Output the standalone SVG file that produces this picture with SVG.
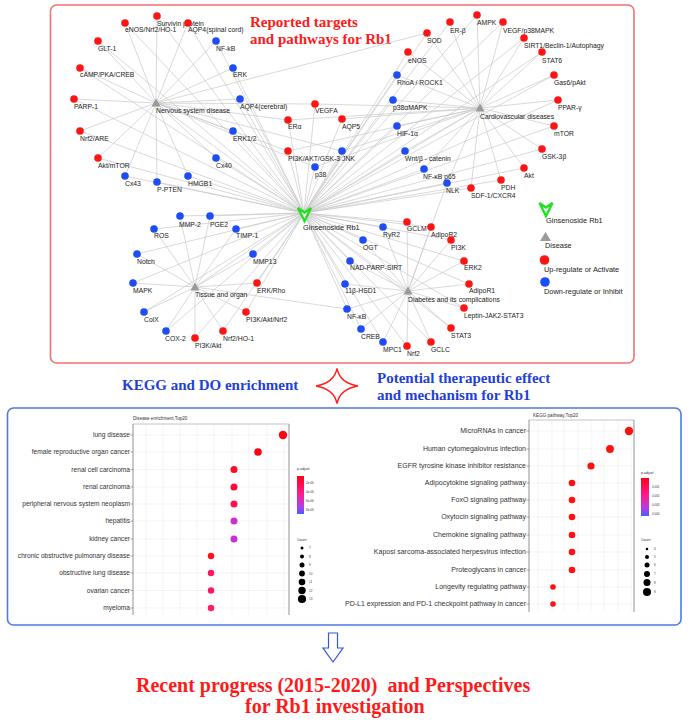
<svg xmlns="http://www.w3.org/2000/svg" width="690" height="723" viewBox="0 0 690 723">
<defs>
<style>
.e{stroke:#c9c9c9;stroke-width:0.7;fill:none}
.r{fill:#ff1414}
.b{fill:#1e4cf5}
.tri{fill:#9a9a9a}
.t{font-family:"Liberation Sans",Arial,sans-serif;font-size:6.8px;fill:#222}
.lg{font-family:"Liberation Sans",Arial,sans-serif;font-size:7.4px;fill:#222}
.ttl{font-family:"Liberation Serif","Times New Roman",serif;font-weight:bold;font-size:15px}
.red{fill:#ff1a1a}
.blu{fill:#1f3fd6}
.ax{font-family:"Liberation Sans",Arial,sans-serif;fill:#333}
.g{stroke:#ececec;stroke-width:0.6}
.tk{stroke:#555;stroke-width:0.5}
.vee{fill:#fff;stroke:#22e022;stroke-width:2.4;stroke-linejoin:miter}
</style>
<linearGradient id="grad" x1="0" y1="0" x2="0" y2="1">
<stop offset="0" stop-color="#ff0018"/>
<stop offset="0.45" stop-color="#ff1a8a"/>
<stop offset="0.8" stop-color="#b040e0"/>
<stop offset="1" stop-color="#4a5cff"/>
</linearGradient>
</defs>
<rect width="690" height="723" fill="#fff"/>

<!-- frames -->
<rect x="50.5" y="5" width="583.5" height="358" rx="6" fill="none" stroke="#f07272" stroke-width="1.6"/>
<rect x="7.5" y="408" width="673.5" height="217" rx="6" fill="none" stroke="#4d78e6" stroke-width="1.6"/>

<text class="ttl red" x="250" y="27">Reported targets</text>
<text class="ttl red" x="250" y="44">and pathways for Rb1</text>

<g id="connectors" class="e">
<!-- center to nodes -->
<line x1="304" y1="213" x2="157" y2="16"/><line x1="304" y1="213" x2="125" y2="23"/><line x1="304" y1="213" x2="188" y2="23"/><line x1="304" y1="213" x2="98" y2="41"/><line x1="304" y1="213" x2="216" y2="41"/><line x1="304" y1="213" x2="80" y2="68"/><line x1="304" y1="213" x2="233" y2="68"/><line x1="304" y1="213" x2="74" y2="99"/><line x1="304" y1="213" x2="240" y2="99"/><line x1="304" y1="213" x2="80" y2="131"/><line x1="304" y1="213" x2="233" y2="131"/><line x1="304" y1="213" x2="98" y2="158"/><line x1="304" y1="213" x2="216" y2="158"/><line x1="304" y1="213" x2="125" y2="176"/><line x1="304" y1="213" x2="188" y2="176"/><line x1="304" y1="213" x2="157" y2="182"/>
<line x1="304" y1="213" x2="315" y2="104"/><line x1="304" y1="213" x2="288" y2="120"/><line x1="304" y1="213" x2="342" y2="119"/><line x1="304" y1="213" x2="288" y2="151"/><line x1="304" y1="213" x2="342" y2="151"/><line x1="304" y1="213" x2="315" y2="167"/>
<line x1="304" y1="213" x2="477" y2="15"/><line x1="304" y1="213" x2="450" y2="22"/><line x1="304" y1="213" x2="503" y2="22"/><line x1="304" y1="213" x2="427" y2="33"/><line x1="304" y1="213" x2="524" y2="38"/><line x1="304" y1="213" x2="408" y2="52"/><line x1="304" y1="213" x2="542" y2="52"/><line x1="304" y1="213" x2="397" y2="75"/><line x1="304" y1="213" x2="554" y2="75"/><line x1="304" y1="213" x2="393" y2="100"/><line x1="304" y1="213" x2="558" y2="100"/><line x1="304" y1="213" x2="397" y2="126"/><line x1="304" y1="213" x2="554" y2="126"/><line x1="304" y1="213" x2="405" y2="151"/><line x1="304" y1="213" x2="542" y2="149"/><line x1="304" y1="213" x2="424" y2="169"/><line x1="304" y1="213" x2="524" y2="168"/><line x1="304" y1="213" x2="501" y2="180"/><line x1="304" y1="213" x2="447" y2="183"/><line x1="304" y1="213" x2="471" y2="188"/>
<line x1="304" y1="213" x2="180" y2="216"/><line x1="304" y1="213" x2="210" y2="216"/><line x1="304" y1="213" x2="154" y2="229"/><line x1="304" y1="213" x2="236" y2="229"/><line x1="304" y1="213" x2="137" y2="254"/><line x1="304" y1="213" x2="253" y2="254"/><line x1="304" y1="213" x2="133" y2="283"/><line x1="304" y1="213" x2="257" y2="283"/><line x1="304" y1="213" x2="144" y2="312"/><line x1="304" y1="213" x2="246" y2="312"/><line x1="304" y1="213" x2="166" y2="331"/><line x1="304" y1="213" x2="223" y2="331"/><line x1="304" y1="213" x2="195" y2="338"/>
<line x1="304" y1="213" x2="407" y2="222"/><line x1="304" y1="213" x2="431" y2="227"/><line x1="304" y1="213" x2="383" y2="227"/><line x1="304" y1="213" x2="363" y2="240"/><line x1="304" y1="213" x2="451" y2="240"/><line x1="304" y1="213" x2="350" y2="261"/><line x1="304" y1="213" x2="464" y2="261"/><line x1="304" y1="213" x2="345" y2="284"/><line x1="304" y1="213" x2="469" y2="284"/><line x1="304" y1="213" x2="347" y2="309"/><line x1="304" y1="213" x2="464" y2="308"/><line x1="304" y1="213" x2="361" y2="329"/><line x1="304" y1="213" x2="451" y2="328"/><line x1="304" y1="213" x2="383" y2="342"/><line x1="304" y1="213" x2="407" y2="346"/><line x1="304" y1="213" x2="431" y2="342"/>
<line x1="304" y1="213" x2="156" y2="103"/><line x1="304" y1="213" x2="480" y2="108"/><line x1="304" y1="213" x2="195" y2="287"/><line x1="304" y1="213" x2="408" y2="291"/>
<!-- nervous system disease -->
<line x1="156" y1="103" x2="157" y2="16"/><line x1="156" y1="103" x2="125" y2="23"/><line x1="156" y1="103" x2="188" y2="23"/><line x1="156" y1="103" x2="98" y2="41"/><line x1="156" y1="103" x2="216" y2="41"/><line x1="156" y1="103" x2="80" y2="68"/><line x1="156" y1="103" x2="233" y2="68"/><line x1="156" y1="103" x2="74" y2="99"/><line x1="156" y1="103" x2="240" y2="99"/><line x1="156" y1="103" x2="80" y2="131"/><line x1="156" y1="103" x2="233" y2="131"/><line x1="156" y1="103" x2="98" y2="158"/><line x1="156" y1="103" x2="216" y2="158"/><line x1="156" y1="103" x2="125" y2="176"/><line x1="156" y1="103" x2="188" y2="176"/><line x1="156" y1="103" x2="157" y2="182"/><line x1="156" y1="103" x2="427" y2="33"/>
<line x1="156" y1="103" x2="315" y2="104"/><line x1="156" y1="103" x2="288" y2="120"/><line x1="156" y1="103" x2="288" y2="151"/><line x1="156" y1="103" x2="342" y2="151"/><line x1="156" y1="103" x2="315" y2="167"/>
<!-- cardiovascular -->
<line x1="480" y1="108" x2="477" y2="15"/><line x1="480" y1="108" x2="450" y2="22"/><line x1="480" y1="108" x2="503" y2="22"/><line x1="480" y1="108" x2="427" y2="33"/><line x1="480" y1="108" x2="524" y2="38"/><line x1="480" y1="108" x2="408" y2="52"/><line x1="480" y1="108" x2="542" y2="52"/><line x1="480" y1="108" x2="397" y2="75"/><line x1="480" y1="108" x2="554" y2="75"/><line x1="480" y1="108" x2="393" y2="100"/><line x1="480" y1="108" x2="558" y2="100"/><line x1="480" y1="108" x2="397" y2="126"/><line x1="480" y1="108" x2="554" y2="126"/><line x1="480" y1="108" x2="405" y2="151"/><line x1="480" y1="108" x2="542" y2="149"/><line x1="480" y1="108" x2="424" y2="169"/><line x1="480" y1="108" x2="524" y2="168"/><line x1="480" y1="108" x2="501" y2="180"/><line x1="480" y1="108" x2="447" y2="183"/><line x1="480" y1="108" x2="471" y2="188"/>
<line x1="480" y1="108" x2="315" y2="104"/><line x1="480" y1="108" x2="288" y2="120"/><line x1="480" y1="108" x2="342" y2="119"/><line x1="480" y1="108" x2="288" y2="151"/><line x1="480" y1="108" x2="342" y2="151"/><line x1="480" y1="108" x2="315" y2="167"/>
<!-- tissue and organ -->
<line x1="195" y1="287" x2="180" y2="216"/><line x1="195" y1="287" x2="210" y2="216"/><line x1="195" y1="287" x2="154" y2="229"/><line x1="195" y1="287" x2="236" y2="229"/><line x1="195" y1="287" x2="137" y2="254"/><line x1="195" y1="287" x2="253" y2="254"/><line x1="195" y1="287" x2="133" y2="283"/><line x1="195" y1="287" x2="257" y2="283"/><line x1="195" y1="287" x2="144" y2="312"/><line x1="195" y1="287" x2="246" y2="312"/><line x1="195" y1="287" x2="166" y2="331"/><line x1="195" y1="287" x2="223" y2="331"/><line x1="195" y1="287" x2="195" y2="338"/><line x1="195" y1="287" x2="347" y2="309"/>
<!-- diabetes -->
<line x1="408" y1="291" x2="407" y2="222"/><line x1="408" y1="291" x2="431" y2="227"/><line x1="408" y1="291" x2="383" y2="227"/><line x1="408" y1="291" x2="363" y2="240"/><line x1="408" y1="291" x2="451" y2="240"/><line x1="408" y1="291" x2="350" y2="261"/><line x1="408" y1="291" x2="464" y2="261"/><line x1="408" y1="291" x2="345" y2="284"/><line x1="408" y1="291" x2="469" y2="284"/><line x1="408" y1="291" x2="347" y2="309"/><line x1="408" y1="291" x2="464" y2="308"/><line x1="408" y1="291" x2="361" y2="329"/><line x1="408" y1="291" x2="451" y2="328"/><line x1="408" y1="291" x2="383" y2="342"/><line x1="408" y1="291" x2="407" y2="346"/><line x1="408" y1="291" x2="431" y2="342"/><line x1="408" y1="291" x2="447" y2="183"/>
</g>

<!-- disease nodes -->
<g id="d-nervous"><polygon class="tri" points="156,98.5 160.5,106.5 151.5,106.5"/><text class="t" x="156" y="113">Nervous system disease</text></g>
<g id="d-cardio"><polygon class="tri" points="480,103.5 484.5,111.5 475.5,111.5"/><text class="t" x="480" y="119">Cardiovascular diseases</text></g>
<g id="d-tissue"><polygon class="tri" points="195,282.5 199.5,290.5 190.5,290.5"/><text class="t" x="195" y="297">Tissue and organ</text></g>
<g id="d-diabetes"><polygon class="tri" points="408,286.5 412.5,294.5 403.5,294.5"/><text class="t" x="408" y="302">Diabetes and its complications</text></g>

<!-- center -->
<g id="rb1"><polygon class="vee" points="298,208 304.5,212.5 311,208 304.5,221"/><text class="lg" x="303" y="230">Ginsenoside Rb1</text></g>

<!-- nervous targets -->
<g id="n1"><circle class="r" cx="157" cy="16" r="3.8"/><text class="t" x="157" y="26">Survivin protein</text></g>
<g id="n2"><circle class="r" cx="125" cy="23" r="3.8"/><text class="t" x="125" y="32">eNOS/Nrf2/HO-1</text></g>
<g id="n3"><circle class="r" cx="188" cy="23" r="3.8"/><text class="t" x="188" y="32">AQP4(spinal cord)</text></g>
<g id="n4"><circle class="r" cx="98" cy="41" r="3.8"/><text class="t" x="98" y="51">GLT-1</text></g>
<g id="n5"><circle class="b" cx="216" cy="41" r="3.8"/><text class="t" x="216" y="51">NF-kB</text></g>
<g id="n6"><circle class="r" cx="80" cy="68" r="3.8"/><text class="t" x="80" y="77">cAMP/PKA/CREB</text></g>
<g id="n7"><circle class="b" cx="233" cy="68" r="3.8"/><text class="t" x="233" y="77">ERK</text></g>
<g id="n8"><circle class="r" cx="74" cy="99" r="3.8"/><text class="t" x="74" y="109">PARP-1</text></g>
<g id="n9"><circle class="b" cx="240" cy="99" r="3.8"/><text class="t" x="240" y="109">AQP4(cerebral)</text></g>
<g id="n10"><circle class="r" cx="80" cy="131" r="3.8"/><text class="t" x="80" y="141">Nrf2/ARE</text></g>
<g id="n11"><circle class="b" cx="233" cy="131" r="3.8"/><text class="t" x="233" y="141">ERK1/2</text></g>
<g id="n12"><circle class="r" cx="98" cy="158" r="3.8"/><text class="t" x="98" y="168">Akt/mTOR</text></g>
<g id="n13"><circle class="b" cx="216" cy="158" r="3.8"/><text class="t" x="216" y="168">Cx40</text></g>
<g id="n14"><circle class="b" cx="125" cy="176" r="3.8"/><text class="t" x="125" y="186">Cx43</text></g>
<g id="n15"><circle class="b" cx="188" cy="176" r="3.8"/><text class="t" x="188" y="186">HMGB1</text></g>
<g id="n16"><circle class="b" cx="157" cy="182" r="3.8"/><text class="t" x="157" y="192">P-PTEN</text></g>

<!-- middle targets -->
<g id="n17"><circle class="r" cx="315" cy="104" r="3.8"/><text class="t" x="315" y="113">VEGFA</text></g>
<g id="n18"><circle class="r" cx="288" cy="120" r="3.8"/><text class="t" x="288" y="129">ERα</text></g>
<g id="n19"><circle class="r" cx="342" cy="119" r="3.8"/><text class="t" x="342" y="129">AQP5</text></g>
<g id="n20"><circle class="r" cx="288" cy="151" r="3.8"/><text class="t" x="288" y="161">PI3K/AKT/GSK-3</text></g>
<g id="n21"><circle class="b" cx="342" cy="151" r="3.8"/><text class="t" x="342" y="161">JNK</text></g>
<g id="n22"><circle class="b" cx="315" cy="167" r="3.8"/><text class="t" x="315" y="177">p38</text></g>

<!-- cardiovascular targets -->
<g id="n23"><circle class="r" cx="477" cy="15" r="3.8"/><text class="t" x="477" y="25">AMPK</text></g>
<g id="n24"><circle class="r" cx="450" cy="22" r="3.8"/><text class="t" x="450" y="33">ER-β</text></g>
<g id="n25"><circle class="r" cx="503" cy="22" r="3.8"/><text class="t" x="503" y="33">VEGF/p38MAPK</text></g>
<g id="n26"><circle class="r" cx="427" cy="33" r="3.8"/><text class="t" x="427" y="43">SOD</text></g>
<g id="n27"><circle class="r" cx="524" cy="38" r="3.8"/><text class="t" x="524" y="48">SIRT1/Beclin-1/Autophagy</text></g>
<g id="n28"><circle class="r" cx="408" cy="52" r="3.8"/><text class="t" x="408" y="63">eNOS</text></g>
<g id="n29"><circle class="r" cx="542" cy="52" r="3.8"/><text class="t" x="542" y="63">STAT6</text></g>
<g id="n30"><circle class="b" cx="397" cy="75" r="3.8"/><text class="t" x="397" y="85">RhoA / ROCK1</text></g>
<g id="n31"><circle class="r" cx="554" cy="75" r="3.8"/><text class="t" x="554" y="85">Gas6/pAkt</text></g>
<g id="n32"><circle class="b" cx="393" cy="100" r="3.8"/><text class="t" x="393" y="110">p38αMAPK</text></g>
<g id="n33"><circle class="r" cx="558" cy="100" r="3.8"/><text class="t" x="558" y="110">PPAR-γ</text></g>
<g id="n34"><circle class="b" cx="397" cy="126" r="3.8"/><text class="t" x="397" y="136">HIF-1α</text></g>
<g id="n35"><circle class="r" cx="554" cy="126" r="3.8"/><text class="t" x="554" y="136">mTOR</text></g>
<g id="n36"><circle class="b" cx="405" cy="151" r="3.8"/><text class="t" x="405" y="161">Wnt/β - catenin</text></g>
<g id="n37"><circle class="r" cx="542" cy="149" r="3.8"/><text class="t" x="542" y="159">GSK-3β</text></g>
<g id="n38"><circle class="b" cx="424" cy="169" r="3.8"/><text class="t" x="423" y="179">NF-κB p65</text></g>
<g id="n39"><circle class="r" cx="524" cy="168" r="3.8"/><text class="t" x="524" y="178">Akt</text></g>
<g id="n40"><circle class="r" cx="501" cy="180" r="3.8"/><text class="t" x="501" y="190">PDH</text></g>
<g id="n41"><circle class="b" cx="447" cy="183" r="3.8"/><text class="t" x="446" y="193">NLK</text></g>
<g id="n42"><circle class="r" cx="471" cy="188" r="3.8"/><text class="t" x="471" y="198">SDF-1/CXCR4</text></g>

<!-- tissue targets -->
<g id="n43"><circle class="b" cx="180" cy="216" r="3.8"/><text class="t" x="179" y="227">MMP-2</text></g>
<g id="n44"><circle class="b" cx="210" cy="216" r="3.8"/><text class="t" x="210" y="227">PGE2</text></g>
<g id="n45"><circle class="b" cx="154" cy="229" r="3.8"/><text class="t" x="154" y="238">ROS</text></g>
<g id="n46"><circle class="b" cx="236" cy="229" r="3.8"/><text class="t" x="236" y="238">TIMP-1</text></g>
<g id="n47"><circle class="b" cx="137" cy="254" r="3.8"/><text class="t" x="137" y="264">Notch</text></g>
<g id="n48"><circle class="b" cx="253" cy="254" r="3.8"/><text class="t" x="253" y="264">MMP13</text></g>
<g id="n49"><circle class="b" cx="133" cy="283" r="3.8"/><text class="t" x="133" y="293">MAPK</text></g>
<g id="n50"><circle class="r" cx="257" cy="283" r="3.8"/><text class="t" x="257" y="293">ERK/Rho</text></g>
<g id="n51"><circle class="b" cx="144" cy="312" r="3.8"/><text class="t" x="144" y="322">ColX</text></g>
<g id="n52"><circle class="r" cx="246" cy="312" r="3.8"/><text class="t" x="246" y="322">PI3K/Akt/Nrf2</text></g>
<g id="n53"><circle class="b" cx="166" cy="331" r="3.8"/><text class="t" x="165" y="341">COX-2</text></g>
<g id="n54"><circle class="r" cx="223" cy="331" r="3.8"/><text class="t" x="223" y="341">Nrf2/HO-1</text></g>
<g id="n55"><circle class="r" cx="195" cy="338" r="3.8"/><text class="t" x="195" y="348">PI3K/Akt</text></g>

<!-- diabetes targets -->
<g id="n56"><circle class="r" cx="407" cy="222" r="3.8"/><text class="t" x="407" y="231">GCLM</text></g>
<g id="n57"><circle class="r" cx="431" cy="227" r="3.8"/><text class="t" x="431" y="237">AdipoR2</text></g>
<g id="n58"><circle class="b" cx="383" cy="227" r="3.8"/><text class="t" x="383" y="237">RyR2</text></g>
<g id="n59"><circle class="b" cx="363" cy="240" r="3.8"/><text class="t" x="363" y="250">OGT</text></g>
<g id="n60"><circle class="r" cx="451" cy="240" r="3.8"/><text class="t" x="451" y="250">PI3K</text></g>
<g id="n61"><circle class="b" cx="350" cy="261" r="3.8"/><text class="t" x="350" y="270">NAD-PARP-SIRT</text></g>
<g id="n62"><circle class="r" cx="464" cy="261" r="3.8"/><text class="t" x="464" y="270">ERK2</text></g>
<g id="n63"><circle class="b" cx="345" cy="284" r="3.8"/><text class="t" x="345" y="293">11β-HSD1</text></g>
<g id="n64"><circle class="r" cx="469" cy="284" r="3.8"/><text class="t" x="469" y="293">AdipoR1</text></g>
<g id="n65"><circle class="b" cx="347" cy="309" r="3.8"/><text class="t" x="347" y="319">NF-κB</text></g>
<g id="n66"><circle class="r" cx="464" cy="308" r="3.8"/><text class="t" x="464" y="318">Leptin-JAK2-STAT3</text></g>
<g id="n67"><circle class="b" cx="361" cy="329" r="3.8"/><text class="t" x="361" y="339">CREB</text></g>
<g id="n68"><circle class="r" cx="451" cy="328" r="3.8"/><text class="t" x="451" y="338">STAT3</text></g>
<g id="n69"><circle class="b" cx="383" cy="342" r="3.8"/><text class="t" x="383" y="352">MPC1</text></g>
<g id="n70"><circle class="r" cx="407" cy="346" r="3.8"/><text class="t" x="407" y="356">Nrf2</text></g>
<g id="n71"><circle class="r" cx="431" cy="342" r="3.8"/><text class="t" x="431" y="352">GCLC</text></g>

<!-- legend -->
<g id="legend">
<polygon class="vee" points="539.5,203 546,207.5 552.5,203 546,216"/><text class="lg" x="546" y="223">Ginsenoside Rb1</text>
<polygon class="tri" points="545.5,232 551,241 540,241"/><text class="lg" x="545" y="248">Disease</text>
<circle class="r" cx="544.5" cy="260" r="4.8"/><text class="lg" x="544" y="272">Up-regulate or Activate</text>
<circle class="b" cx="545" cy="282" r="4.8"/><text class="lg" x="544" y="294">Down-regulate or Inhibit</text>
</g>

<!-- middle titles -->
<text class="ttl blu" x="122" y="390">KEGG and DO enrichment</text>
<path d="M337,368.5 Q340,383 358,386 Q340,389 337,403.5 Q334,389 316,386 Q334,383 337,368.5 Z" fill="none" stroke="#ff2020" stroke-width="1.4"/>
<text class="ttl blu" x="377" y="383">Potential therapeutic effect</text>
<text class="ttl blu" x="377" y="400">and mechanism for Rb1</text>

<!-- left chart -->
<g id="chart-disease">
<text class="ax" x="133" y="420" font-size="4.6">Disease enrichment,Top20</text>
<g class="g">
<line x1="146" y1="424" x2="146" y2="615"/><line x1="163" y1="424" x2="163" y2="615"/><line x1="180" y1="424" x2="180" y2="615"/><line x1="197" y1="424" x2="197" y2="615"/><line x1="214" y1="424" x2="214" y2="615"/><line x1="232" y1="424" x2="232" y2="615"/><line x1="249" y1="424" x2="249" y2="615"/><line x1="267" y1="424" x2="267" y2="615"/><line x1="284" y1="424" x2="284" y2="615"/>
<line x1="133" y1="435" x2="289" y2="435"/><line x1="133" y1="452" x2="289" y2="452"/><line x1="133" y1="469.5" x2="289" y2="469.5"/><line x1="133" y1="487" x2="289" y2="487"/><line x1="133" y1="504" x2="289" y2="504"/><line x1="133" y1="521" x2="289" y2="521"/><line x1="133" y1="539" x2="289" y2="539"/><line x1="133" y1="556" x2="289" y2="556"/><line x1="133" y1="573" x2="289" y2="573"/><line x1="133" y1="590.5" x2="289" y2="590.5"/><line x1="133" y1="608" x2="289" y2="608"/>
</g>
<line x1="133" y1="424" x2="289" y2="424" stroke="#aaa" stroke-width="0.7"/>
<line x1="133" y1="424" x2="133" y2="615" stroke="#777" stroke-width="0.8"/>
<line x1="289" y1="424" x2="289" y2="615" stroke="#777" stroke-width="0.8"/>
<g class="tk">
<line x1="130.5" y1="435" x2="133" y2="435"/><line x1="130.5" y1="452" x2="133" y2="452"/><line x1="130.5" y1="469.5" x2="133" y2="469.5"/><line x1="130.5" y1="487" x2="133" y2="487"/><line x1="130.5" y1="504" x2="133" y2="504"/><line x1="130.5" y1="521" x2="133" y2="521"/><line x1="130.5" y1="539" x2="133" y2="539"/><line x1="130.5" y1="556" x2="133" y2="556"/><line x1="130.5" y1="573" x2="133" y2="573"/><line x1="130.5" y1="590.5" x2="133" y2="590.5"/><line x1="130.5" y1="608" x2="133" y2="608"/>
</g>
<g class="ax" font-size="6.6" text-anchor="end">
<text x="130" y="437.3">lung disease</text>
<text x="130" y="454.3">female reproductive organ cancer</text>
<text x="130" y="471.8">renal cell carcinoma</text>
<text x="130" y="489.3">renal carcinoma</text>
<text x="130" y="506.3">peripheral nervous system neoplasm</text>
<text x="130" y="523.3">hepatitis</text>
<text x="130" y="541.3">kidney cancer</text>
<text x="130" y="558.3">chronic obstructive pulmonary disease</text>
<text x="130" y="575.3">obstructive lung disease</text>
<text x="130" y="592.8">ovarian cancer</text>
<text x="130" y="610.3">myeloma</text>
</g>
<circle cx="283" cy="435" r="4.2" fill="#ff0012"/>
<circle cx="258" cy="452" r="3.8" fill="#ff0018"/>
<circle cx="234" cy="469.5" r="3.5" fill="#ff0a28"/>
<circle cx="234" cy="487" r="3.5" fill="#ff0a3c"/>
<circle cx="234" cy="504" r="3.5" fill="#ff1050"/>
<circle cx="234" cy="521" r="3.5" fill="#cc30cc"/>
<circle cx="234" cy="539" r="3.5" fill="#c433d2"/>
<circle cx="211" cy="556" r="3.2" fill="#ff1020"/>
<circle cx="211" cy="573" r="3.2" fill="#ff1560"/>
<circle cx="211" cy="590.5" r="3.2" fill="#ff1562"/>
<circle cx="211" cy="608" r="3.2" fill="#ff1a70"/>
<text class="ax" x="297" y="470" font-size="3.6">p.adjust</text>
<rect x="297" y="476" width="7" height="38" fill="url(#grad)"/>
<g class="ax" font-size="3">
<text x="306" y="484">2e-06</text><text x="306" y="493">4e-06</text><text x="306" y="502">6e-06</text><text x="306" y="511">8e-06</text>
</g>
<text class="ax" x="297" y="541" font-size="3.6">Count</text>
<g fill="#000">
<circle cx="302" cy="548" r="1.5"/><circle cx="302" cy="556.5" r="2"/><circle cx="302" cy="565" r="2.5"/><circle cx="302" cy="573.5" r="2.9"/><circle cx="302" cy="582" r="3.3"/><circle cx="302" cy="590.5" r="3.7"/><circle cx="302" cy="599" r="4.1"/>
</g>
<g class="ax" font-size="3">
<text x="309" y="549">7</text><text x="309" y="557.5">8</text><text x="309" y="566">9</text><text x="309" y="574.5">10</text><text x="309" y="583">11</text><text x="309" y="591.5">12</text><text x="309" y="600">13</text>
</g>
</g>

<!-- right chart -->
<g id="chart-kegg">
<text class="ax" x="533" y="416.5" font-size="4.6">KEGG pathway,Top20</text>
<g class="g">
<line x1="538" y1="420" x2="538" y2="612"/><line x1="552" y1="420" x2="552" y2="612"/><line x1="564" y1="420" x2="564" y2="612"/><line x1="578" y1="420" x2="578" y2="612"/><line x1="591" y1="420" x2="591" y2="612"/><line x1="604" y1="420" x2="604" y2="612"/><line x1="618" y1="420" x2="618" y2="612"/><line x1="631" y1="420" x2="631" y2="612"/>
<line x1="529" y1="431" x2="634" y2="431"/><line x1="529" y1="449" x2="634" y2="449"/><line x1="529" y1="466" x2="634" y2="466"/><line x1="529" y1="483" x2="634" y2="483"/><line x1="529" y1="500" x2="634" y2="500"/><line x1="529" y1="517" x2="634" y2="517"/><line x1="529" y1="535" x2="634" y2="535"/><line x1="529" y1="552" x2="634" y2="552"/><line x1="529" y1="570" x2="634" y2="570"/><line x1="529" y1="587" x2="634" y2="587"/><line x1="529" y1="604" x2="634" y2="604"/>
</g>
<line x1="529" y1="420" x2="634" y2="420" stroke="#aaa" stroke-width="0.7"/>
<line x1="529" y1="420" x2="529" y2="612" stroke="#777" stroke-width="0.8"/>
<line x1="634" y1="420" x2="634" y2="612" stroke="#777" stroke-width="0.8"/>
<g class="tk">
<line x1="526.5" y1="431" x2="529" y2="431"/><line x1="526.5" y1="449" x2="529" y2="449"/><line x1="526.5" y1="466" x2="529" y2="466"/><line x1="526.5" y1="483" x2="529" y2="483"/><line x1="526.5" y1="500" x2="529" y2="500"/><line x1="526.5" y1="517" x2="529" y2="517"/><line x1="526.5" y1="535" x2="529" y2="535"/><line x1="526.5" y1="552" x2="529" y2="552"/><line x1="526.5" y1="570" x2="529" y2="570"/><line x1="526.5" y1="587" x2="529" y2="587"/><line x1="526.5" y1="604" x2="529" y2="604"/>
</g>
<g class="ax" font-size="7" text-anchor="end">
<text x="526" y="433.4">MicroRNAs in cancer</text>
<text x="526" y="451.4">Human cytomegalovirus infection</text>
<text x="526" y="468.4">EGFR tyrosine kinase inhibitor resistance</text>
<text x="526" y="485.4">Adipocytokine signaling pathway</text>
<text x="526" y="502.4">FoxO signaling pathway</text>
<text x="526" y="519.4">Oxytocin signaling pathway</text>
<text x="526" y="537.4">Chemokine signaling pathway</text>
<text x="526" y="554.4">Kaposi sarcoma-associated herpesvirus infection</text>
<text x="526" y="572.4">Proteoglycans in cancer</text>
<text x="526" y="589.4">Longevity regulating pathway</text>
<text x="526" y="606.4">PD-L1 expression and PD-1 checkpoint pathway in cancer</text>
</g>
<g fill="#ff1010">
<circle cx="629" cy="431" r="4.2"/><circle cx="610" cy="449" r="3.9"/><circle cx="591" cy="466" r="3.6"/><circle cx="572" cy="483" r="3.3"/><circle cx="572" cy="500" r="3.3"/><circle cx="572" cy="517" r="3.3"/><circle cx="572" cy="535" r="3.3"/><circle cx="572" cy="552" r="3.3"/><circle cx="572" cy="570" r="3.3"/><circle cx="553" cy="587" r="2.8"/><circle cx="553" cy="604" r="2.8"/>
</g>
<text class="ax" x="641" y="474" font-size="3.6">p.adjust</text>
<rect x="641" y="478" width="8" height="38" fill="url(#grad)"/>
<g class="ax" font-size="3">
<text x="652" y="488">0.001</text><text x="652" y="497">0.002</text><text x="652" y="506">0.003</text><text x="652" y="515">0.004</text>
</g>
<text class="ax" x="641" y="541" font-size="3.6">Count</text>
<g fill="#000">
<circle cx="647" cy="549" r="1.3"/><circle cx="647" cy="557" r="2"/><circle cx="647" cy="565" r="2.5"/><circle cx="647" cy="574" r="3"/><circle cx="647" cy="582.5" r="3.5"/><circle cx="647" cy="592" r="4"/>
</g>
<g class="ax" font-size="3">
<text x="654" y="550">4</text><text x="654" y="558">5</text><text x="654" y="566">6</text><text x="654" y="575">7</text><text x="654" y="583.5">8</text><text x="654" y="593">9</text>
</g>
</g>

<!-- bottom arrow and text -->
<polygon points="328.5,633 337.5,633 337.5,648 343,648 333,662 323,648 328.5,648" fill="#fff" stroke="#3355d8" stroke-width="1.2"/>
<text class="ttl red" x="136" y="692" font-size="20" style="font-size:20px;white-space:pre" xml:space="preserve">Recent progress (2015-2020)  and Perspectives</text>
<text class="ttl red" x="245" y="713" style="font-size:20px">for Rb1 investigation</text>
</svg>
